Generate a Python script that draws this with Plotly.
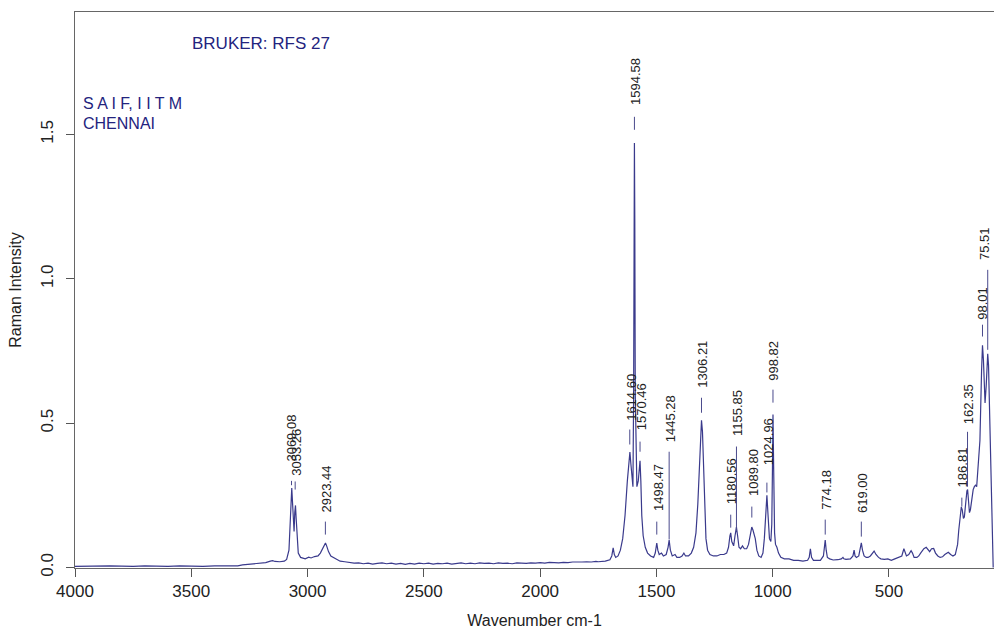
import plotly.graph_objects as go

# ---------------- data ----------------
wavenumber = [
    4000, 3950, 3900, 3850, 3800, 3750, 3700, 3650, 3600, 3550, 3500, 3450, 3400, 3350, 3300,
    3280, 3250, 3220, 3200, 3180, 3160, 3150, 3140, 3120, 3100, 3090, 3080, 3075, 3071, 3068,
    3065, 3061, 3058, 3055, 3052, 3049, 3045, 3040, 3030, 3010, 2995, 2985, 2970, 2955, 2945,
    2935, 2928, 2923, 2918, 2910, 2900, 2890, 2880, 2860, 2840,
    2820, 2800, 2780, 2760, 2740, 2720, 2700, 2680, 2660, 2640, 2620, 2600, 2580, 2560, 2540,
    2520, 2500, 2480, 2460, 2440, 2420, 2400, 2380, 2360, 2340, 2320, 2300, 2280, 2260, 2240,
    2220, 2200, 2180, 2160, 2140, 2120, 2100, 2080, 2060, 2040, 2020, 2000, 1980, 1960, 1940,
    1920, 1900, 1880, 1860, 1840, 1820, 1800, 1780, 1760,
    1750, 1720, 1700, 1692, 1686, 1681, 1675, 1665, 1655, 1645, 1635, 1625, 1618, 1614, 1610,
    1605, 1601, 1598, 1596, 1594.6, 1593, 1591, 1588, 1584, 1578, 1573, 1570.5, 1567, 1563, 1557,
    1548, 1538, 1525, 1512, 1505, 1498.5, 1494, 1488, 1478, 1470, 1458, 1450, 1445.3, 1440, 1432,
    1420, 1412, 1400, 1390, 1382, 1375, 1362, 1350, 1340, 1330, 1322, 1315, 1310, 1306.2, 1302,
    1297, 1292, 1287, 1280, 1270, 1255, 1240, 1225, 1210, 1198, 1190, 1184, 1180.6, 1176, 1168,
    1162, 1156, 1151, 1145, 1138, 1130, 1122, 1112, 1104, 1096, 1090, 1085, 1080, 1075, 1068,
    1060, 1050, 1042, 1036, 1030, 1025, 1020, 1014, 1008, 1004, 1001, 998.8, 996, 992, 988,
    982, 975, 965, 950, 930, 910, 890, 870, 850, 843, 838, 833, 825, 810, 795,
    782, 778, 774.2, 770, 765, 755, 740, 720, 705, 698, 694, 685, 675, 666, 655,
    650, 646, 640, 630, 624, 619, 614, 607, 598, 590, 580, 572, 564, 556, 545,
    535, 520, 505, 490, 475, 460, 445, 436, 431, 425, 415, 405, 399, 392, 380,
    372, 364, 350, 340, 335, 325, 317, 308, 300, 290, 280, 270, 260, 252, 245,
    235, 225, 215, 205, 200, 195, 189, 185, 180, 176, 170, 165, 162, 158, 154,
    150, 145, 138, 133, 128, 123, 115, 109, 102, 98, 94, 90, 87, 82, 78,
    75.5, 72, 66, 60, 55, 52,
]
intensity = [
    0.004, 0.005, 0.004, 0.006, 0.005, 0.004, 0.006, 0.005, 0.004, 0.006, 0.005, 0.004, 0.006, 0.005, 0.006,
    0.009, 0.012, 0.014, 0.016, 0.017, 0.022, 0.024, 0.021, 0.020, 0.022, 0.028, 0.060, 0.160, 0.250, 0.275,
    0.230, 0.150, 0.125, 0.190, 0.215, 0.170, 0.090, 0.050, 0.035, 0.030, 0.036, 0.033, 0.038, 0.040, 0.050,
    0.065, 0.080, 0.085, 0.075, 0.055, 0.040, 0.035, 0.030, 0.022, 0.020,
    0.017, 0.015, 0.016, 0.013, 0.015, 0.012, 0.014, 0.016, 0.013, 0.015, 0.012, 0.014, 0.011, 0.014, 0.012,
    0.015, 0.013, 0.015, 0.012, 0.014, 0.013, 0.015, 0.012, 0.014, 0.016, 0.013, 0.015, 0.013, 0.016, 0.014,
    0.015, 0.013, 0.016, 0.014, 0.015, 0.013, 0.016, 0.015, 0.014, 0.016, 0.015, 0.017, 0.015, 0.018, 0.017,
    0.016, 0.018, 0.017, 0.019, 0.018, 0.019, 0.020, 0.019, 0.021,
    0.020, 0.022, 0.027, 0.040, 0.068, 0.045, 0.035, 0.040, 0.060, 0.100, 0.180, 0.300, 0.390, 0.400, 0.360,
    0.300, 0.280, 0.600, 1.200, 1.470, 1.200, 0.600, 0.350, 0.280, 0.300, 0.360, 0.370, 0.300, 0.180, 0.110,
    0.070, 0.050, 0.040, 0.035, 0.050, 0.085, 0.060, 0.045, 0.050, 0.040, 0.045, 0.070, 0.095, 0.060, 0.040,
    0.045, 0.035, 0.035, 0.040, 0.050, 0.040, 0.040, 0.050, 0.070, 0.120, 0.220, 0.380, 0.480, 0.510, 0.470,
    0.350, 0.200, 0.100, 0.060, 0.045, 0.040, 0.040, 0.045, 0.045, 0.050, 0.070, 0.110, 0.120, 0.090, 0.075,
    0.110, 0.140, 0.110, 0.070, 0.065, 0.075, 0.065, 0.065, 0.080, 0.120, 0.140, 0.130, 0.115, 0.100, 0.060,
    0.040, 0.035, 0.050, 0.100, 0.200, 0.250, 0.180, 0.100, 0.090, 0.150, 0.350, 0.530, 0.350, 0.120, 0.080,
    0.070, 0.050, 0.035, 0.030, 0.030, 0.025, 0.025, 0.022, 0.025, 0.035, 0.065, 0.035, 0.025, 0.025, 0.025,
    0.040, 0.070, 0.095, 0.060, 0.035, 0.030, 0.026, 0.027, 0.030, 0.035, 0.030, 0.028, 0.030, 0.030, 0.040,
    0.060, 0.040, 0.035, 0.040, 0.060, 0.085, 0.060, 0.040, 0.035, 0.035, 0.040, 0.050, 0.057, 0.045, 0.035,
    0.030, 0.028, 0.030, 0.025, 0.030, 0.035, 0.040, 0.065, 0.050, 0.040, 0.045, 0.058, 0.050, 0.035, 0.035,
    0.040, 0.050, 0.065, 0.070, 0.065, 0.055, 0.065, 0.066, 0.050, 0.040, 0.035, 0.037, 0.045, 0.050, 0.053,
    0.045, 0.040, 0.045, 0.080, 0.130, 0.180, 0.210, 0.200, 0.170, 0.175, 0.230, 0.265, 0.270, 0.210, 0.190,
    0.200, 0.240, 0.270, 0.280, 0.285, 0.280, 0.360, 0.440, 0.680, 0.770, 0.720, 0.600, 0.570, 0.630, 0.710,
    0.740, 0.700, 0.450, 0.200, 0.050, 0.000,
]

# peak labels
peak_pos = [3069.08, 3053.26, 2923.44, 1614.60, 1594.58, 1570.46, 1498.47, 1445.28, 1306.21,
            1180.56, 1155.85, 1089.80, 1024.96, 998.82, 774.18, 619.00, 186.81, 162.35, 98.01, 75.51]
peak_text = ["3069.08", "3053.26", "2923.44", "1614.60", "1594.58", "1570.46", "1498.47", "1445.28",
             "1306.21", "1180.56", "1155.85", "1089.80", "1024.96", "998.82", "774.18", "619.00",
             "186.81", "162.35", "98.01", "75.51"]
# label marker placement (intensity units)
mark_lo = [0.285, 0.270, 0.114, 0.426, 1.516, 0.401, 0.114, 0.097, 0.536, 0.138, 0.125, 0.173,
           0.260, 0.571, 0.114, 0.107, 0.211, 0.280, 0.800, 0.754]
mark_hi = [0.300, 0.298, 0.159, 0.478, 1.561, 0.436, 0.159, 0.401, 0.588, 0.183, 0.419, 0.211,
           0.294, 0.616, 0.166, 0.159, 0.242, 0.470, 0.841, 1.031]
text_base = [0.360, 0.310, 0.183, 0.502, 1.595, 0.467, 0.190, 0.426, 0.616, 0.211, 0.450, 0.242,
             0.349, 0.640, 0.194, 0.183, 0.270, 0.488, 0.851, 1.059]
text_shift = [0, 1, 1, 1, 1, 1, 1, 1, 1, 1, 1, 1, 1, 1, 1, 1, 1, 1, 0, -3]

x_ticks = [4000, 3500, 3000, 2500, 2000, 1500, 1000, 500]
y_ticks = [0.0, 0.5, 1.0, 1.5]

FONT = "Arial, 'Liberation Sans', sans-serif"
NAVY = "#23237e"
LINE = "#3a3a8c"

fig = go.Figure()
fig.add_trace(go.Scatter(x=wavenumber, y=intensity, mode="lines",
                         line=dict(color=LINE, width=1.2), hoverinfo="skip", showlegend=False))

# label markers as one trace with gaps
mx, my = [], []
for p, lo, hi in zip(peak_pos, mark_lo, mark_hi):
    mx += [p, p, None]
    my += [lo, hi, None]
fig.add_trace(go.Scatter(x=mx, y=my, mode="lines", line=dict(color="#4a4a8c", width=1),
                         hoverinfo="skip", showlegend=False))

for p, t, b, s in zip(peak_pos, peak_text, text_base, text_shift):
    fig.add_annotation(x=p, y=b, text=t, textangle=-90, showarrow=False,
                       xanchor="center", yanchor="bottom", xshift=s,
                       font=dict(family=FONT, size=13, color="#222222"))

fig.add_annotation(xref="paper", yref="paper", x=0.125, y=0.944, text="BRUKER: RFS 27",
                   showarrow=False, xanchor="left", yanchor="middle",
                   font=dict(family=FONT, size=17, color=NAVY))
fig.add_annotation(xref="paper", yref="paper", x=0.006, y=0.836, text="S A I F, I I T M",
                   showarrow=False, xanchor="left", yanchor="middle",
                   font=dict(family=FONT, size=16, color=NAVY))
fig.add_annotation(xref="paper", yref="paper", x=0.006, y=0.800, text="CHENNAI",
                   showarrow=False, xanchor="left", yanchor="middle",
                   font=dict(family=FONT, size=16, color=NAVY))

fig.update_layout(
    width=994, height=632,
    margin=dict(l=75, r=0, t=12, b=64),
    paper_bgcolor="white", plot_bgcolor="white",
    font=dict(family=FONT, color="#222222"),
    xaxis=dict(range=[4000, 48.5], tickvals=x_ticks, ticktext=[str(v) for v in x_ticks],
               showgrid=False, zeroline=False, showline=True, linecolor="#666666", linewidth=1,
               mirror=True, ticks="outside", ticklen=8, tickcolor="#555555",
               tickfont=dict(size=17, color="#222222"),
               title=dict(text="Wavenumber cm-1", font=dict(size=16, color="#222222"), standoff=14)),
    yaxis=dict(range=[-0.0017, 1.924], tickvals=y_ticks, ticktext=["0.0", "0.5", "1.0", "1.5"],
               showgrid=False, zeroline=False, showline=True, linecolor="#666666", linewidth=1,
               ticks="outside", ticklen=8, tickcolor="#555555", tickangle=-90,
               ticklabelstandoff=6,
               tickfont=dict(size=17, color="#222222"),
               title=dict(text="Raman Intensity", font=dict(size=16, color="#222222"), standoff=12)),
)

fig.write_html("out.html")
